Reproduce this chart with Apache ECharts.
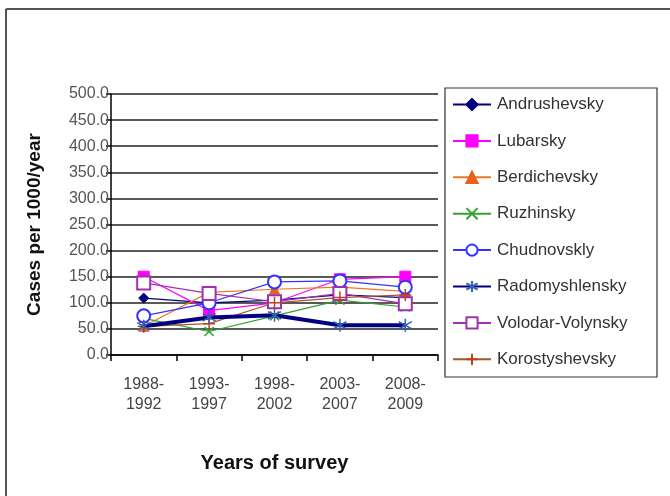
<!DOCTYPE html>
<html>
<head>
<meta charset="utf-8">
<script src="https://cdn.jsdelivr.net/npm/echarts@6/dist/echarts.min.js"></script>
<style>
html,body{margin:0;padding:0;background:#fff;}
#c{width:670px;height:496px;}
</style>
</head>
<body>
<div id="c"></div>
<script>
var categories = ['1988-\n1992', '1993-\n1997', '1998-\n2002', '2003-\n2007', '2008-\n2009'];
var yTicks = [0, 50, 100, 150, 200, 250, 300, 350, 400, 450, 500];

var andrushevsky   = [109, 100, 105, 115, 110];
var lubarsky       = [150, 85, 100, 145, 150];
var berdichevsky   = [55, 120, 126, 130, 122];
var ruzhinsky      = [70, 45, 75, 105, 92];
var chudnovsky     = [75, 100, 140, 142, 130];
var radomyshlensky = [55, 72, 76, 57, 57];
var volodar        = [138, 118, 102, 118, 98];
var korostyshevsky = [55, 60, 100, 110, 115];

var names = ['Andrushevsky','Lubarsky','Berdichevsky','Ruzhinsky','Chudnovskly','Radomyshlensky','Volodar-Volynsky','Korostyshevsky'];
var datasets = [andrushevsky, lubarsky, berdichevsky, ruzhinsky, chudnovsky, radomyshlensky, volodar, korostyshevsky];
var colors = ['#000080','#FF00FF','#F07820','#33A033','#3333FF','#000080','#A030B0','#A05A28'];
var markerColors = ['#000080','#FF00FF','#E8601C','#33A033','#3333FF','#3060B0','#A030B0','#C04020'];

var crossPath = 'path://M-5,-5L5,5M-5,5L5,-5';
var plusPath = 'path://M0,-6L0,6M-6,0L6,0';
var starPath = 'path://M0,-7L0,7M-6,-4L6,4M-6,4L6,-4';
var symbols = ['diamond','rect','triangle',crossPath,'emptyCircle',starPath,'emptyRect',plusPath];
var sizes = [10, 11, 10, 9, 13, 13, 13, 12];
var widths = [1.2, 1.2, 1.2, 1.2, 1.2, 4, 1.2, 1.2];
var FONT = 'Liberation Sans, Arial, sans-serif';

var series = names.map(function(n, i){
  var isPath = symbols[i].indexOf('path://') === 0;
  return {
    name: n,
    type: 'line',
    data: datasets[i],
    symbol: symbols[i],
    symbolSize: sizes[i],
    showAllSymbol: true,
    lineStyle: {color: colors[i], width: widths[i]},
    itemStyle: isPath ? {color: markerColors[i], borderColor: markerColors[i], borderWidth: 1.5}
                      : {color: markerColors[i], borderColor: markerColors[i], borderWidth: (symbols[i].indexOf('empty')===0?1.5:1)},
    emphasis: {disabled: true},
    animation: false,
    z: i === 5 ? 3 : 2
  };
});

var chart = echarts.init(document.getElementById('c'));
chart.setOption({
  backgroundColor: '#fff',
  animation: false,
  textStyle: {fontFamily: FONT},
  grid: {left: 111, right: 232, top: 94, bottom: 141, containLabel: false},
  xAxis: {
    type: 'category',
    data: categories,
    boundaryGap: true,
    axisLine: {lineStyle: {color: '#000', width: 1.5}},
    axisTick: {show: true, length: 6, lineStyle: {color: '#000', width: 1.5}},
    axisLabel: {fontSize: 16, color: '#444', lineHeight: 20, margin: 20, fontFamily: FONT},
    name: 'Years of survey',
    nameLocation: 'middle',
    nameGap: 98,
    nameTextStyle: {fontSize: 20, fontWeight: 'bold', color: '#111', fontFamily: FONT}
  },
  yAxis: {
    type: 'value',
    min: yTicks[0],
    max: yTicks[yTicks.length-1],
    interval: 50,
    axisLine: {show: true, lineStyle: {color: '#000', width: 1.5}},
    axisTick: {show: true, length: 5, lineStyle: {color: '#000', width: 1.5}},
    axisLabel: {fontSize: 16, color: '#555', margin: 2, formatter: function(v){return v.toFixed(1);}, fontFamily: FONT},
    splitLine: {show: true, lineStyle: {color: '#222', width: 1.5}},
    name: 'Cases per 1000/year',
    nameLocation: 'middle',
    nameGap: 67,
    nameRotate: 90,
    nameTextStyle: {fontSize: 19, fontWeight: 'bold', color: '#111', fontFamily: FONT}
  },
  legend: {
    orient: 'vertical',
    left: 452,
    top: 96,
    itemWidth: 38,
    itemHeight: 14,
    itemGap: 19.4,
    padding: 0,
    textStyle: {fontSize: 17, color: '#333', padding: [0,0,0,1], fontFamily: FONT},
    data: names
  },
  graphic: [
    {type: 'rect', shape: {x: 445, y: 88, width: 212, height: 289}, style: {fill: 'none', stroke: '#333', lineWidth: 1.2}, z: -1},
    {type: 'line', shape: {x1: 6, y1: 9, x2: 670, y2: 9}, style: {stroke: '#555', lineWidth: 2}},
    {type: 'line', shape: {x1: 6, y1: 9, x2: 6, y2: 496}, style: {stroke: '#555', lineWidth: 2}}
  ],
  series: series
});
</script>
</body>
</html>
